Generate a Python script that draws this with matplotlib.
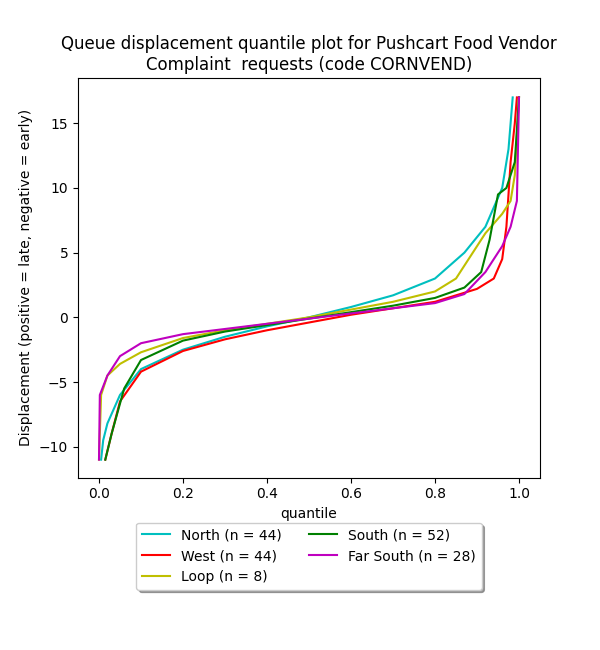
import matplotlib
matplotlib.use("Agg")
import matplotlib.pyplot as plt

north_q = [0.005,0.01,0.02,0.05,0.1,0.2,0.3,0.4,0.5,0.6,0.7,0.8,0.87,0.92,0.96,0.975,0.985]
north_v = [-11,-9.5,-8.2,-6,-4,-2.5,-1.5,-0.7,0,0.8,1.7,3,5,7,10,13,17]
west_q = [0.015,0.03,0.05,0.1,0.2,0.3,0.4,0.5,0.6,0.7,0.8,0.9,0.94,0.96,0.97,0.98,0.99,0.995]
west_v = [-11,-9,-6.5,-4.2,-2.6,-1.7,-1,-0.4,0.2,0.7,1.2,2.2,3,4.5,7,12,15,17]
loop_q = [0,0.005,0.02,0.05,0.1,0.2,0.3,0.4,0.5,0.6,0.7,0.8,0.85,0.88,0.92,0.96,0.98,0.99,1.0]
loop_v = [-11,-6,-4.5,-3.6,-2.7,-1.6,-1,-0.5,0,0.6,1.2,2,3,4.5,6.5,8,9,11,17]
south_q = [0.015,0.03,0.06,0.1,0.2,0.3,0.4,0.5,0.6,0.7,0.8,0.87,0.91,0.93,0.95,0.97,0.99,1.0]
south_v = [-11,-9,-5.5,-3.3,-1.8,-1.1,-0.6,-0.1,0.4,0.9,1.5,2.3,3.5,6,9.5,10,12,17]
fs_q = [0,0.002,0.02,0.05,0.1,0.2,0.3,0.4,0.5,0.6,0.7,0.8,0.87,0.92,0.96,0.98,0.995,1.0]
fs_v = [-11,-6,-4.5,-3,-2,-1.3,-0.9,-0.5,-0.1,0.3,0.7,1.1,1.8,3.5,5.5,7,9,17]

series = [("North (n = 44)", north_q, north_v, "c"),
          ("West (n = 44)", west_q, west_v, "r"),
          ("Loop (n = 8)", loop_q, loop_v, "y"),
          ("South (n = 52)", south_q, south_v, "g"),
          ("Far South (n = 28)", fs_q, fs_v, "m")]

fig = plt.figure(figsize=(6, 6.5), dpi=100)
ax = fig.add_axes([0.13, 0.265, 0.77, 0.615])
for lab, q, v, c in series:
    ax.plot(q, v, color=c, label=lab)
ax.set_xlim(-0.05, 1.05)
ax.set_ylim(-12.4, 18.5)
ax.set_xlabel("quantile")
ax.set_ylabel("Displacement (positive = late, negative = early)")
ax.set_title("Queue displacement quantile plot for Pushcart Food Vendor\nComplaint  requests (code CORNVEND)")
ax.legend(loc="upper center", bbox_to_anchor=(0.5, -0.095), ncol=2, shadow=True)
fig.savefig("out.png")
